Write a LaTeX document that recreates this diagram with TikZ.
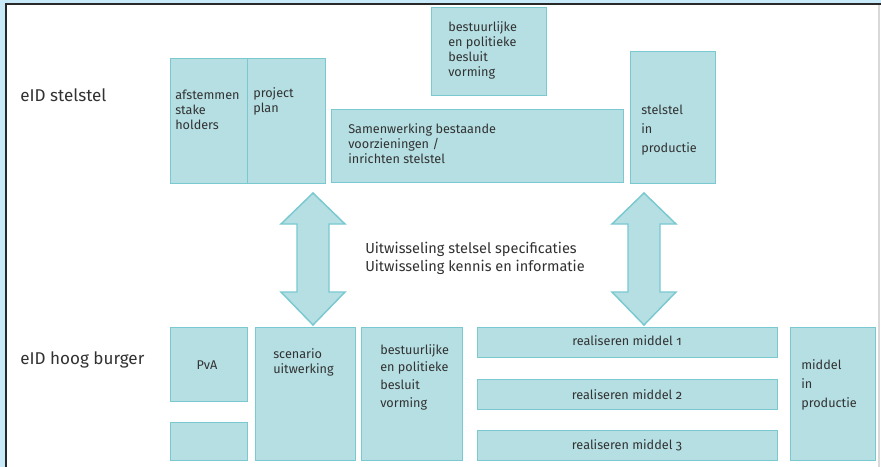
\documentclass[tikz,border=0pt]{standalone}
\usepackage{fontspec}
\setmainfont[Numbers=OldStyle]{Fira Sans}
\definecolor{boxfill}{RGB}{181,223,227}
\definecolor{boxline}{RGB}{122,201,209}
\definecolor{framebg}{RGB}{200,234,248}
\definecolor{framedark}{RGB}{40,40,40}
\definecolor{txt}{RGB}{50,50,50}
\tikzset{
  box/.style={
    draw=boxline,
    fill=boxfill,
    line width=1.1pt,
    anchor=north west,
    inner sep=0pt
  },
  boxsize/.style 2 args={minimum width=#1*0.75pt, minimum height=#2*0.75pt},
  boxtext/.style={anchor=base west, align=left, inner sep=0pt, text=txt,
    font=\fontsize{9.5}{11.25}\selectfont},
  widetext/.style={boxtext, font=\fontsize{9.5}{14.2}\selectfont},
  rowlabel/.style={anchor=base west, inner sep=0pt, text=txt,
    font=\fontsize{12.8}{15}\selectfont},
  flowtext/.style={anchor=base west, align=left, inner sep=0pt, text=txt,
    font=\fontsize{10.9}{13.5}\selectfont},
  arrowbox/.style={draw=boxline, fill=boxfill, line width=1.1pt, line join=miter}
}

\begin{document}
\begin{tikzpicture}[x=0.75pt, y=-0.75pt]
  \useasboundingbox (0,0) rectangle (881,467);
  % frame of the screenshot
  \fill[framebg] (0,0) rectangle (881,467);
  \fill[white] (6,4) rectangle (881,467);
  \draw[framedark, line width=1.6pt] (6,467) -- (6,4) -- (881,4);
  \draw[gray!30, line width=0.8pt] (879,5) -- (879,467);

  % row labels
  \node[rowlabel] (lbl-stelstel) at (20,102) {eID stelstel};
  \node[rowlabel] (lbl-burger) at (20,364) {eID hoog burger};

  % top row: eID stelstel (text nodes sit on the baseline of their last line)
  \node[box, boxsize={77}{125}] (afst) at (170,58) {};
  \node[box, boxsize={78}{125}] (plan) at (247,58) {};
  \node[box, boxsize={292}{73}] (samen) at (331,109) {};
  \node[box, boxsize={115}{88}] (bestuur-top) at (431,7) {};
  \node[box, boxsize={85}{132}] (stelprod) at (630,51) {};

  \node[boxtext] (afst-t) at (175,129) {afstemmen\\stake\\holders};
  \node[boxtext] (plan-t) at (253,113) {project\\plan};
  \node[boxtext] (samen-t) at (348,163) {Samenwerking bestaande\\voorzieningen /\\inrichten stelstel};
  \node[boxtext] (bestuur-top-t) at (448,77) {bestuurlijke\\en politieke\\besluit\\vorming};
  \node[widetext] (stelprod-t) at (641,152) {stelstel\\in\\productie};

  % exchange arrows
  \foreach \ax in {313,644}
    \draw[arrowbox] (\ax,193) -- (\ax+32,224) -- (\ax+16,224) -- (\ax+16,292)
      -- (\ax+32,292) -- (\ax,325) -- (\ax-32,292) -- (\ax-16,292)
      -- (\ax-16,224) -- (\ax-32,224) -- cycle;
  \node[flowtext] (uitw-t) at (365,271)
    {Uitwisseling stelsel specificaties\\Uitwisseling kennis en informatie};

  % bottom row: eID hoog burger
  \node[box, boxsize={77}{74}] (pva) at (170,327) {};
  \node[box, boxsize={77}{38}] (leeg) at (170,422) {};
  \node[box, boxsize={100}{133}] (scen) at (255,327) {};
  \node[box, boxsize={101}{133}] (bestuur-bot) at (361,327) {};
  \node[box, boxsize={300}{30}] (real1) at (477,327) {};
  \node[box, boxsize={300}{30}] (real2) at (477,379) {};
  \node[box, boxsize={300}{30}] (real3) at (477,430) {};
  \node[box, boxsize={85}{133}] (midprod) at (790,327) {};

  \node[boxtext, anchor=base] (pva-t) at (207,369) {PvA};
  \node[boxtext] (scen-t) at (273,373) {scenario\\uitwerking};
  \node[boxtext, font=\fontsize{9.5}{13.2}\selectfont] (bestuur-bot-t) at (380,407)
    {bestuurlijke\\en politieke\\besluit\\vorming};
  \node[boxtext, anchor=base] (real1-t) at (627,345) {realiseren middel 1};
  \node[boxtext, anchor=base] (real2-t) at (627,399) {realiseren middel 2};
  \node[boxtext, anchor=base] (real3-t) at (627,449) {realiseren middel 3};
  \node[widetext] (midprod-t) at (801,407) {middel\\in\\productie};
\end{tikzpicture}
\end{document}
